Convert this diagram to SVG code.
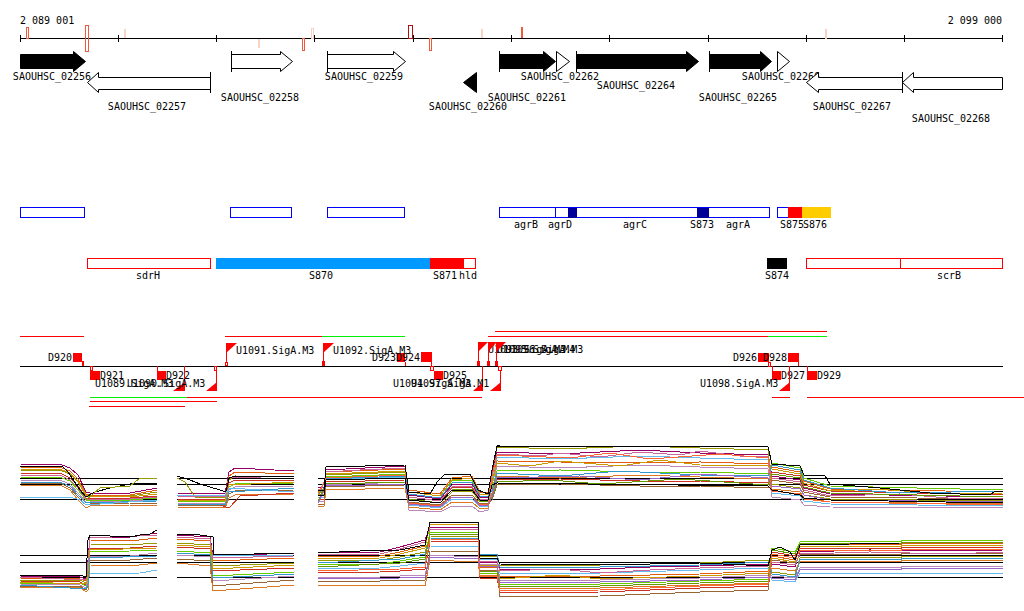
<svg xmlns="http://www.w3.org/2000/svg" width="1024" height="611" viewBox="0 0 1024 611">
<style>
text{font-family:"DejaVu Sans Mono","Liberation Mono",monospace;font-size:10px;fill:#000}
.m{text-anchor:middle}
.e{text-anchor:end}
.gb{fill:#000;stroke:#000;stroke-width:1}
.gw{fill:#fff;stroke:#000;stroke-width:1}
.ln{stroke:#000;stroke-width:1;fill:none}
.bo{fill:#fff;stroke:#0000ff;stroke-width:1}
.ro{fill:#fff;stroke:#ff0000;stroke-width:1}
.rf{fill:#ff0000}
.rl{stroke:#ff0000;stroke-width:1;fill:none}
.gl{stroke:#00ee00;stroke-width:1;fill:none}
.hr{fill:#fff;stroke:#ff0000;stroke-width:1}
.d polyline{fill:none;stroke-width:1;shape-rendering:crispEdges}
.c0{stroke:#990066}.c1{stroke:#e06010}.c2{stroke:#999900}.c3{stroke:#66cc00}.c4{stroke:#66bbee}.c5{stroke:#cc3322}.c6{stroke:#bb88bb}.c7{stroke:#996633}.c8{stroke:#000}.c9{stroke:#dd7722}
.ca{stroke:#cc6699}.cb{stroke:#cc9900}.cc{stroke:#3399cc}.cd{stroke:#669900}.ce{stroke:#ff6633}.cf{stroke:#9966cc}
</style>
<rect width="1024" height="611" fill="#fff"/>

<g id="ruler">
<line x1="20" y1="38.5" x2="1003" y2="38.5" class="ln"/>
<path class="ln" d="M20.5 35V42M118.5 35V42M216.5 35V42M314.5 35V42M413.5 35V42M511.5 35V42M609.5 35V42M708.5 35V42M806.5 35V42M904.5 35V42M1002.5 35V42"/>
<rect x="26.5" y="27.5" width="2" height="11" fill="none" stroke="#f05a3c"/>
<rect x="85.5" y="25.5" width="3" height="26" fill="none" stroke="#f05a3c"/>
<rect x="124" y="29" width="2" height="9" fill="#f8d4c4"/>
<rect x="258" y="39" width="2" height="9" fill="#f8d4c4"/>
<rect x="302.5" y="38.5" width="2" height="12" fill="none" stroke="#f05a3c"/>
<rect x="311.5" y="28.5" width="2" height="10" fill="none" stroke="#f8d0c8"/>
<rect x="408.5" y="25.5" width="4" height="13" fill="none" stroke="#b01010"/>
<rect x="429.5" y="38.5" width="2" height="12" fill="none" stroke="#f05a3c"/>
<rect x="481" y="29" width="2" height="9" fill="#f8d4c4"/>
<rect x="521" y="27" width="2" height="11" fill="#f05a3c"/>
<rect x="825.5" y="29.5" width="1" height="9" fill="none" stroke="#f8d0c8"/>
<text x="20" y="24">2 089 001</text>
<text x="1002" y="24" class="e">2 099 000</text>
</g>

<g id="g02256"><polygon class="gb" points="20.5,54.5 73.5,54.5 73.5,51.5 85.5,61.5 73.5,71.5 73.5,68.5 20.5,68.5"/><text x="52" y="80" class="m">SAOUHSC_02256</text></g>
<g id="g02257"><polygon class="gw" points="87.5,82.5 98.5,72.5 98.5,77.5 210.5,77.5 210.5,89.5 98.5,89.5 98.5,92.5"/><path class="ln" d="M210.5 72V93"/><text x="147" y="110" class="m">SAOUHSC_02257</text></g>
<g id="g02258"><polygon class="gw" points="231.5,54.5 280.5,54.5 280.5,51.5 292.5,61.5 280.5,71.5 280.5,68.5 231.5,68.5"/><path class="ln" d="M231.5 51V72"/><text x="260" y="101" class="m">SAOUHSC_02258</text></g>
<g id="g02259"><polygon class="gw" points="327.5,54.5 393.5,54.5 393.5,51.5 405.5,61.5 393.5,71.5 393.5,68.5 327.5,68.5"/><path class="ln" d="M327.5 51V72"/><text x="364" y="80" class="m">SAOUHSC_02259</text></g>
<g id="g02260"><polygon class="gb" points="463.5,82.5 476.5,72.5 476.5,92.5"/><text x="468" y="110" class="m">SAOUHSC_02260</text></g>
<g id="g02261"><polygon class="gb" points="499.5,54.5 543.5,54.5 543.5,51.5 555.5,61.5 543.5,71.5 543.5,68.5 499.5,68.5"/><path class="ln" d="M499.5 51V72"/><text x="527" y="101" class="m">SAOUHSC_02261</text></g>
<g id="g02262"><polygon class="gw" points="556.5,51.5 569.5,61.5 556.5,71.5"/><text x="560" y="80" class="m">SAOUHSC_02262</text></g>
<g id="g02264"><polygon class="gb" points="576.5,54.5 686.5,54.5 686.5,51.5 698.5,61.5 686.5,71.5 686.5,68.5 576.5,68.5"/><path class="ln" d="M576.5 51V72"/><text x="636" y="89" class="m">SAOUHSC_02264</text></g>
<g id="g02265"><polygon class="gb" points="709.5,54.5 760.5,54.5 760.5,51.5 771.5,61.5 760.5,71.5 760.5,68.5 709.5,68.5"/><path class="ln" d="M709.5 51V72"/><text x="738" y="101" class="m">SAOUHSC_02265</text></g>
<g id="g02266"><polygon class="gw" points="777.5,51.5 789.5,61.5 777.5,71.5"/><text x="781" y="80" class="m">SAOUHSC_02266</text></g>
<g id="g02267"><polygon class="gw" points="806.5,82.5 818.5,72.5 818.5,77.5 902.5,77.5 902.5,89.5 818.5,89.5 818.5,92.5"/><path class="ln" d="M902.5 72V93"/><text x="852" y="110" class="m">SAOUHSC_02267</text></g>
<g id="g02268"><polygon class="gw" points="902.5,82.5 913.5,72.5 913.5,77.5 1002.5,77.5 1002.5,89.5 913.5,89.5 913.5,92.5"/><text x="951" y="122" class="m">SAOUHSC_02268</text></g>

<g id="operons">
<rect class="bo" x="20.5" y="207.5" width="64" height="10"/>
<rect class="bo" x="230.5" y="207.5" width="61" height="10"/>
<rect class="bo" x="327.5" y="207.5" width="77" height="10"/>
</g>
<g id="agr">
<rect class="bo" x="499.5" y="207.5" width="270" height="10"/>
<path d="M555.5 208V217" stroke="#0000ff"/>
<rect x="568" y="208" width="9" height="10" fill="#000099"/>
<rect x="697" y="208" width="12" height="10" fill="#000099"/>
<text x="526" y="228" class="m">agrB</text>
<text x="560" y="228" class="m">agrD</text>
<text x="635" y="228" class="m">agrC</text>
<text x="702" y="228" class="m">S873</text>
<text x="738" y="228" class="m">agrA</text>
</g>
<g id="s875">
<rect class="bo" x="777.5" y="207.5" width="20" height="10"/>
<rect x="788" y="207" width="14" height="11" fill="#ff0000"/>
<rect x="802" y="207" width="29" height="11" fill="#ffcc00"/>
<text x="792" y="228" class="m">S875</text>
<text x="815" y="228" class="m">S876</text>
</g>

<g id="sdrH"><rect class="ro" x="87.5" y="258.5" width="123" height="10"/><text x="148" y="279" class="m">sdrH</text></g>
<g id="s870"><rect x="216" y="258" width="214" height="11" fill="#0099ff"/><text x="321" y="279" class="m">S870</text></g>
<g id="s871"><rect class="ro" x="430.5" y="258.5" width="45" height="10"/><rect x="430" y="258" width="34" height="11" fill="#ff0000"/><text x="445" y="279" class="m">S871</text><text x="468" y="279" class="m">hld</text></g>
<g id="s874"><rect x="767" y="258" width="20" height="11" fill="#000"/><text x="777" y="279" class="m">S874</text></g>
<g id="scrB"><rect class="ro" x="806.5" y="258.5" width="94" height="10"/><rect class="ro" x="900.5" y="258.5" width="102" height="10"/><text x="949" y="279" class="m">scrB</text></g>

<g id="connectors">
<line x1="20" y1="366.5" x2="1003" y2="366.5" class="ln"/>
<path class="rl" d="M20 336.5H84M225 336.5H322M488 336.5H768M495 331.5H827M187 397.5H482M772 397.5H790M807 397.5H1024M90 401.5H217M89 406.5H185"/>
<path class="gl" d="M322 336.5H405M768 336.5H827M90 397.5H187"/>
</g>

<g id="terminators">
<g id="D920"><rect class="rf" x="73" y="353" width="9" height="9"/><rect class="rf" x="82" y="361" width="2" height="5"/><text x="72" y="361" class="e">D920</text></g>
<g id="D921"><rect class="rf" x="90" y="371" width="10" height="9"/><rect class="hr" x="90.5" y="366.5" width="2" height="4"/><text x="100" y="379">D921</text></g>
<g id="D922"><rect class="rf" x="157" y="371" width="9" height="9"/><path class="rl" d="M157.5 366V371"/><text x="166" y="379">D922</text></g>
<g id="D923"><rect class="rf" x="397" y="353" width="8" height="9"/><path class="rl" d="M405.5 362V366"/><text x="396" y="361" class="e">D923</text></g>
<g id="D924"><rect class="rf" x="421" y="352" width="11" height="10"/><path class="rl" d="M431.5 362V366"/><text x="420" y="361" class="e">D924</text></g>
<g id="D925"><rect class="rf" x="434" y="371" width="9" height="9"/><rect class="hr" x="430.5" y="366.5" width="3" height="4"/><text x="443" y="379">D925</text></g>
<g id="D926"><rect class="rf" x="758" y="353" width="11" height="9"/><rect class="hr" x="768.5" y="362.5" width="2" height="4"/><text x="757" y="361" class="e">D926</text></g>
<g id="D928"><rect class="rf" x="788" y="353" width="11" height="9"/><path class="rl" d="M798.5 362V366"/><text x="787" y="361" class="e">D928</text></g>
<g id="D927"><rect class="rf" x="772" y="371" width="9" height="9"/><path class="rl" d="M772.5 366V371"/><text x="781" y="379">D927</text></g>
<g id="D929"><rect class="rf" x="807" y="371" width="10" height="9"/><path class="rl" d="M807.5 366V371"/><text x="817" y="379">D929</text></g>
</g>

<g id="promoters">
<g id="U1089"><path class="rl" d="M184.5 366V390"/><polygon class="rf" points="185,382 185,391 173,391"/><text x="95" y="387">U1089.SigA.M3</text></g>
<g id="U1090"><path class="rl" d="M216.5 366V390"/><rect class="hr" x="214.5" y="366.5" width="2" height="4"/><polygon class="rf" points="217,382 217,391 206,391"/><text x="127" y="387">U1090.SigA.M3</text></g>
<g id="U1091"><path class="rl" d="M226.5 343V366"/><rect class="hr" x="225.5" y="362.5" width="2" height="3"/><polygon class="rf" points="226,343 237,343 226,353"/><text x="236" y="354">U1091.SigA.M3</text></g>
<g id="U1092"><path class="rl" d="M323.5 343V366"/><rect class="rf" x="322" y="361" width="3" height="5"/><polygon class="rf" points="323,343 334,343 323,353"/><text x="333" y="354">U1092.SigA.M3</text></g>
<g id="U1094"><path class="rl" d="M482.5 366V390"/><polygon class="rf" points="483,382 483,391 473,391"/><text x="393" y="387">U1094.SigA.M3</text></g>
<g id="U1097"><path class="rl" d="M500.5 366V390"/><rect class="hr" x="498.5" y="366.5" width="3" height="4"/><polygon class="rf" points="501,382 501,391 490,391"/><text x="411" y="387">U1097.SigA.M1</text></g>
<g id="U1093"><path class="rl" d="M478.5 342V366"/><rect class="rf" x="477" y="361" width="3" height="5"/><polygon class="rf" points="478,342 488,342 478,352"/><text x="488" y="353">U1093.SigA.M3</text></g>
<g id="U1095"><path class="rl" d="M488.5 342V366"/><rect class="rf" x="487" y="361" width="3" height="5"/><polygon class="rf" points="488,342 497,342 488,352"/><text x="497" y="353">U1095.SigA.M4</text></g>
<g id="U1096"><path class="rl" d="M496.5 342V366"/><rect class="rf" x="495" y="361" width="3" height="5"/><polygon class="rf" points="496,342 506,342 496,352"/><text x="505" y="353">U1096.SigA.M3</text></g>
<g id="U1098"><path class="rl" d="M789.5 366V390"/><polygon class="rf" points="790,382 790,391 779,391"/><text x="700" y="387">U1098.SigA.M3</text></g>
</g>

<g id="plots">
<path class="ln" d="M20 478.5H157M20 484.5H157M20 499.5H157M177 478.5H294M177 484.5H294M177 499.5H294M318 478.5H1003M318 484.5H1003M318 499.5H1003M20 555.5H157M20 562.5H157M20 577.5H157M177 555.5H294M177 562.5H294M177 577.5H294M318 555.5H1003M318 562.5H1003M318 577.5H1003"/>
<g class="d">
<!-- upper A -->
<polyline class="c0" points="20,464 62,465 70,468 78,475 86,492 90,493 130,493 157,488"/>
<polyline class="c1" points="20,467 62,468 70,471 78,479 86,494 90,495 130,495 157,490"/>
<polyline class="c2" points="20,470 62,471 70,474 78,482 86,496 90,497 130,496 157,492"/>
<polyline class="c5" points="20,473 62,474 70,478 78,486 86,498 90,498 130,498 157,496"/>
<polyline class="c3" points="20,477 62,478 70,481 78,490 86,500 90,500 130,500 157,498"/>
<polyline class="c6" points="20,480 62,481 70,484 78,493 86,502 90,502 130,501 157,500"/>
<polyline class="c7" points="20,483 62,484 70,488 78,497 86,505 90,504 130,503 157,503"/>
<polyline class="c9" points="20,485 62,486 70,490 78,500 86,508 90,506 130,505 157,505"/>
<polyline class="ca" points="20,475 62,476 70,480 78,488 86,499 90,499 130,499 157,497"/>
<polyline class="cb" points="20,469 62,470 70,473 78,481 86,495 90,496 130,497 157,494"/>
<polyline class="cc" points="20,482 62,483 70,486 78,495 86,503 157,501"/>
<polyline class="c8" points="20,466 62,466 68,472 80,490 86,497 95,492 110,488 130,484 157,483"/>
<polyline class="c4" points="20,497 70,497 80,500 86,505 157,500"/>
<polyline class="c2" points="86,500 100,488 130,486 140,478 157,478"/>
<!-- lower A -->
<polyline class="c0" points="20,576 80,577 86,579 88,560 90,537 130,537 157,533"/>
<polyline class="c1" points="20,578 80,579 86,581 88,565 90,540 130,541 157,538"/>
<polyline class="c2" points="20,580 80,580 86,583 88,570 90,544 130,545 157,543"/>
<polyline class="c5" points="20,581 80,582 86,585 88,575 90,548 130,548 157,546"/>
<polyline class="c3" points="20,583 80,583 86,586 88,578 90,552 130,551 157,550"/>
<polyline class="c6" points="20,584 80,585 86,588 88,580 90,556 130,556 157,553"/>
<polyline class="c7" points="20,586 80,586 86,590 88,585 90,560 130,560 157,558"/>
<polyline class="c9" points="20,587 80,587 86,592 88,590 90,565 130,566 157,563"/>
<polyline class="ca" points="20,577 86,580 88,562 90,538 157,535"/>
<polyline class="cb" points="20,582 86,584 88,574 90,550 157,548"/>
<polyline class="cc" points="20,585 86,589 88,584 90,558 157,556"/>
<polyline class="c8" points="20,575 80,575 86,577 88,540 90,535 130,537 140,535 150,534 157,530"/>
<polyline class="c4" points="90,574 140,573 157,570"/>
<!-- upper B -->
<polyline class="c0" points="177,493 225,494 229,472 235,468 294,471"/>
<polyline class="c1" points="177,495 225,496 229,476 235,472 294,474"/>
<polyline class="c2" points="177,478 185,482 195,497 225,498 229,480 235,476 294,477"/>
<polyline class="c5" points="177,499 225,500 229,483 235,480 294,480"/>
<polyline class="c3" points="177,501 225,502 229,487 235,484 294,483"/>
<polyline class="c6" points="177,503 225,504 229,490 235,487 294,486"/>
<polyline class="c7" points="177,505 225,506 229,494 235,491 294,490"/>
<polyline class="c9" points="177,507 225,508 229,498 235,495 294,494"/>
<polyline class="ca" points="177,496 225,497 229,478 294,476"/>
<polyline class="cb" points="177,500 225,501 229,485 294,482"/>
<polyline class="cc" points="177,504 225,505 229,492 294,488"/>
<polyline class="c8" points="177,476 190,480 200,484 220,490 226,492 229,478 235,476 294,476"/>
<polyline class="c4" points="177,495 225,495 229,488 294,492"/>
<polyline class="c5" points="220,505 229,508 240,496 294,493"/>
<!-- lower B -->
<polyline class="c0" points="177,535 210,537 213,556 294,553"/>
<polyline class="c1" points="177,539 210,541 213,561 294,558"/>
<polyline class="c2" points="177,543 210,545 213,566 294,563"/>
<polyline class="c5" points="177,547 210,549 213,571 294,568"/>
<polyline class="c3" points="177,551 210,553 213,576 294,572"/>
<polyline class="c6" points="177,555 210,557 213,581 294,576"/>
<polyline class="c7" points="177,559 210,561 213,586 294,580"/>
<polyline class="c9" points="177,563 210,566 213,591 294,585"/>
<polyline class="ca" points="177,537 210,539 213,558 294,556"/>
<polyline class="cb" points="177,545 210,547 213,569 294,565"/>
<polyline class="cc" points="177,553 210,555 213,578 294,574"/>
<polyline class="c8" points="177,534 200,535 213,537 214,555 294,553"/>
<polyline class="c4" points="213,555 240,556 294,555"/>
<!-- upper C -->
<polyline class="c0" points="318,487 324,487 326,470 405,466 409,495 440,499 452,485 472,484 480,497 488,497 492,474 497,452 560,454 640,450 700,453 768,455 772,476 800,480 804,488 830,494 1003,497"/>
<polyline class="c1" points="318,489 324,489 326,472 405,469 409,490 440,494 452,478 472,476 480,492 488,492 492,481 497,461 560,462 640,463 700,462 768,464 772,467 800,472 804,481 830,489 1003,492"/>
<polyline class="c2" points="318,492 324,492 326,475 405,472 409,500 440,503 452,492 472,491 480,502 488,501 492,470 497,447 560,449 640,446 700,448 768,450 772,484 800,488 804,495 830,499 1003,501"/>
<polyline class="c3" points="318,494 324,494 326,477 405,474 409,492 440,496 452,481 472,480 480,494 488,494 492,489 497,471 560,470 640,472 700,472 768,474 772,463 800,468 804,478 830,486 1003,490"/>
<polyline class="c4" points="318,497 324,497 326,480 405,477 409,505 440,508 452,499 472,499 480,507 488,506 492,478 497,457 560,459 640,456 700,458 768,460 772,493 800,496 804,501 830,504 1003,506"/>
<polyline class="c5" points="318,499 324,499 326,482 405,480 409,497 440,501 452,488 472,487 480,499 488,499 492,496 497,480 560,479 640,481 700,481 768,483 772,472 800,476 804,485 830,491 1003,495"/>
<polyline class="c6" points="318,501 324,501 326,485 405,482 409,510 440,512 452,506 472,506 480,512 488,510 492,485 497,466 560,468 640,465 700,467 768,469 772,497 800,500 804,505 830,507 1003,508"/>
<polyline class="c7" points="318,504 324,504 326,487 405,485 409,502 440,505 452,495 472,495 480,504 488,503 492,500 497,485 560,484 640,486 700,486 768,488 772,480 800,484 804,492 830,497 1003,499"/>
<polyline class="c9" points="318,506 324,506 326,490 405,488 409,507 440,510 452,502 472,502 480,509 488,508 492,493 497,476 560,478 640,475 700,477 768,479 772,489 800,492 804,498 830,502 1003,504"/>
<polyline class="ca" points="318,489 324,489 326,472 360,470 405,468 409,497 440,501 452,487 472,486 480,499 488,499 492,476 497,454 540,456 560,453 600,457 640,452 680,455 700,451 740,456 768,457 772,478 800,482 804,490 830,496 900,494 960,499 1003,498"/>
<polyline class="cb" points="318,491 324,491 326,474 405,471 409,492 440,496 452,480 472,478 480,494 488,494 492,483 497,463 530,466 560,461 620,466 660,460 700,465 768,466 772,469 800,474 804,483 830,491 880,489 940,494 1003,493"/>
<polyline class="cc" points="318,496 326,479 405,476 409,494 440,498 452,483 472,482 480,496 488,496 492,491 497,473 560,476 620,471 700,475 768,476 772,465 800,470 804,480 830,488 900,493 1003,491"/>
<polyline class="cd" points="318,501 326,484 405,482 409,499 440,503 452,490 472,489 480,501 488,501 492,498 497,482 550,480 600,484 680,479 768,485 772,474 800,478 804,487 830,493 1003,497"/>
<polyline class="ce" points="318,495 326,478 405,475 409,503 440,506 452,497 472,497 480,505 488,504 492,476 497,455 570,458 610,453 650,459 720,454 768,458 772,491 800,494 804,499 830,502 1003,505"/>
<polyline class="cf" points="318,503 326,486 405,484 409,504 440,507 452,497 472,497 480,506 488,505 492,497 497,478 580,476 640,480 700,474 768,478 772,486 800,489 804,495 830,500 1003,502"/>
<polyline class="c8" points="318,490 324,490 326,467 405,465 409,492 430,494 437,482 445,474 470,474 478,490 488,494 492,470 497,446 768,447 772,464 800,466 804,475 825,476 830,484 880,488 930,493 990,495 995,491 1003,492"/>
<polyline class="c8" points="318,495 324,495 326,480 405,478 409,500 440,503 452,490 472,490 480,500 488,500 492,485 497,483 768,486 772,490 800,495 804,498 830,500 1003,503"/>
<!-- lower C -->
<polyline class="c0" points="318,553 380,552 400,547 425,540 430,527 478,527 480,562 497,562 500,569 600,569 650,567 700,566 768,564 772,564 795,567 800,552 870,550 950,551 1003,550"/>
<polyline class="c1" points="318,557 380,556 400,552 425,546 430,522 478,522 480,567 497,567 500,577 600,576 700,574 768,571 772,556 795,560 800,545 1003,543"/>
<polyline class="c2" points="318,561 380,560 400,557 425,552 430,536 478,537 480,556 497,556 500,565 600,565 700,563 768,560 772,572 795,575 800,558 1003,556"/>
<polyline class="c3" points="318,565 380,564 400,561 425,557 430,532 478,532 480,573 497,573 500,585 600,584 700,581 768,579 772,548 795,552 800,542 1003,540"/>
<polyline class="c4" points="318,569 380,568 400,566 425,563 430,546 478,547 480,559 497,559 500,573 600,573 700,570 768,568 772,580 795,582 800,573 1003,573"/>
<polyline class="c5" points="318,573 380,572 400,571 425,569 430,541 478,542 480,578 497,578 500,593 600,592 700,588 768,586 772,552 795,556 800,549 1003,547"/>
<polyline class="c6" points="318,577 380,577 400,576 425,575 430,555 478,557 480,564 497,564 500,581 600,580 700,578 768,575 772,576 795,578 800,568 1003,566"/>
<polyline class="c7" points="318,581 380,581 400,580 425,580 430,551 478,552 480,570 497,570 500,597 600,596 700,592 768,590 772,560 795,563 800,555 1003,553"/>
<polyline class="c9" points="318,585 380,585 400,585 425,586 430,560 478,562 480,575 497,575 500,589 600,588 700,585 768,583 772,568 795,571 800,562 1003,560"/>
<polyline class="ca" points="318,555 380,554 400,549 425,542 430,529 478,529 480,561 497,561 500,571 560,569 600,573 650,570 700,568 768,566 772,562 795,565 800,554 870,552 950,554 1003,552"/>
<polyline class="cb" points="318,559 380,558 400,554 425,548 430,524 478,524 480,565 497,565 500,579 560,575 600,579 700,576 768,573 772,558 795,562 800,547 1003,545"/>
<polyline class="cc" points="318,563 400,559 425,554 430,538 478,539 480,554 497,554 500,567 600,567 700,565 768,562 772,574 795,577 800,560 1003,558"/>
<polyline class="cd" points="318,567 400,563 425,559 430,534 478,534 480,571 497,571 500,587 600,586 700,583 768,581 772,550 795,554 800,544 1003,542"/>
<polyline class="ce" points="318,571 400,569 425,567 430,539 478,540 480,576 497,576 500,591 600,590 700,586 768,584 772,554 795,558 800,551 1003,549"/>
<polyline class="cf" points="318,579 400,578 425,577 430,557 478,559 480,566 497,566 500,583 600,582 700,580 768,577 772,578 795,580 800,570 1003,568"/>
<polyline class="c8" points="318,553 360,551 400,550 425,545 430,522 478,522 480,558 497,558 500,564 600,565 700,563 768,566 772,550 780,547 790,552 795,560 800,545 900,543 1003,543"/>
</g>
</g>
</svg>
